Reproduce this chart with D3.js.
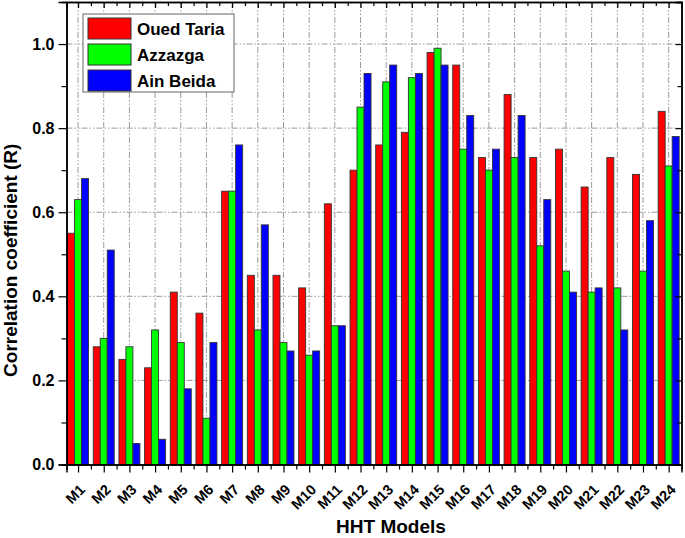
<!DOCTYPE html>
<html><head><meta charset="utf-8">
<script src="https://cdn.jsdelivr.net/npm/d3@7"></script>
<style>
body{margin:0;background:#fff;}
text{font-family:"Liberation Sans",Arial,sans-serif;font-weight:bold;}
</style></head>
<body><svg id="c" width="685" height="538"></svg>
<script>
const categories = ["M1","M2","M3","M4","M5","M6","M7","M8","M9","M10","M11","M12","M13","M14","M15","M16","M17","M18","M19","M20","M21","M22","M23","M24"];
const seriesNames = ["Oued Taria","Azzazga","Ain Beida"];
const ouedTaria = [0.55,0.28,0.25,0.23,0.41,0.36,0.65,0.45,0.45,0.42,0.62,0.70,0.76,0.79,0.98,0.95,0.73,0.88,0.73,0.75,0.66,0.73,0.69,0.84];
const azzazga   = [0.63,0.30,0.28,0.32,0.29,0.11,0.65,0.32,0.29,0.26,0.33,0.85,0.91,0.92,0.99,0.75,0.70,0.73,0.52,0.46,0.41,0.42,0.46,0.71];
const ainBeida  = [0.68,0.51,0.05,0.06,0.18,0.29,0.76,0.57,0.27,0.27,0.33,0.93,0.95,0.93,0.95,0.83,0.75,0.83,0.63,0.41,0.42,0.32,0.58,0.78];
const yTicks = [0.0,0.2,0.4,0.6,0.8,1.0];
const colors = ["#ff0000","#00ff00","#0000ff"];
const series = [ouedTaria, azzazga, ainBeida];

(function(){
const svg = d3.select("#c");
const L=66.5, R=681.5, T=2, B=464.5;
const x = d3.scaleLinear().domain([0.55,24.5]).range([L,R]);
const y = d3.scaleLinear().domain([0,1.1]).range([B,T]);
const idx = categories.map((c,i)=>i+1);
const half = categories.map((c,i)=>i+1.5).slice(0,23);
const minorY = d3.range(0.1,1.1,0.2).map(v=>+v.toFixed(2));

// grid
const dash="6,2,1.5,2,1.5,2";
svg.append("g").selectAll("line").data(yTicks.slice(1)).join("line")
  .attr("x1",L).attr("x2",R).attr("y1",d=>y(d)).attr("y2",d=>y(d))
  .attr("stroke","#9a9a9a").attr("stroke-width",1).attr("stroke-dasharray",dash);
svg.append("g").selectAll("line").data(idx).join("line")
  .attr("x1",d=>x(d)).attr("x2",d=>x(d)).attr("y1",T).attr("y2",B)
  .attr("stroke","#9a9a9a").attr("stroke-width",1).attr("stroke-dasharray",dash);

// bars
const bw = 7;
series.forEach((s,si)=>{
  svg.append("g").selectAll("rect").data(s).join("rect")
    .attr("x",(d,i)=>x(i+1)-1.5*bw+si*bw)
    .attr("y",d=>y(d)).attr("width",bw).attr("height",d=>B-y(d))
    .attr("fill",colors[si]).attr("stroke","#333").attr("stroke-width",0.9);
});

// axes
svg.append("g").attr("transform",`translate(0,${B})`).call(d3.axisBottom(x).tickValues(idx).tickFormat("").tickSizeOuter(0).tickSize(8));
svg.append("g").attr("transform",`translate(0,${B})`).call(d3.axisBottom(x).tickValues(half).tickFormat("").tickSizeOuter(0).tickSize(5));
svg.append("g").attr("transform",`translate(0,${T})`).call(d3.axisTop(x).tickValues(idx).tickFormat("").tickSizeOuter(0).tickSize(-6));
svg.append("g").attr("transform",`translate(0,${T})`).call(d3.axisTop(x).tickValues(half).tickFormat("").tickSizeOuter(0).tickSize(-4));
const gl = svg.append("g").attr("transform",`translate(${L},0)`).call(d3.axisLeft(y).tickValues(yTicks).tickFormat(d3.format(".1f")).tickSizeOuter(0).tickSize(8).tickPadding(4));
gl.selectAll("text").style("font-size","16px").attr("fill","#000");
svg.append("g").attr("transform",`translate(${L},0)`).call(d3.axisLeft(y).tickValues(minorY).tickFormat("").tickSizeOuter(0).tickSize(5));
svg.append("g").attr("transform",`translate(${R},0)`).call(d3.axisRight(y).tickValues(yTicks).tickFormat("").tickSizeOuter(0).tickSize(-6));
svg.append("g").attr("transform",`translate(${R},0)`).call(d3.axisRight(y).tickValues(minorY).tickFormat("").tickSizeOuter(0).tickSize(-4));
svg.selectAll(".domain").attr("stroke","#000").attr("stroke-width",1.5);
svg.selectAll(".tick line").attr("stroke","#000").attr("stroke-width",1.2);

// x labels
svg.append("g").selectAll("text").data(categories).join("text")
  .attr("transform",(d,i)=>`translate(${x(i+1)+8},${B+26}) rotate(-45)`)
  .attr("text-anchor","end").style("font-size","14.5px").text(d=>d);

// titles
svg.append("text").attr("x",391).attr("y",533).attr("text-anchor","middle").style("font-size","19px").text("HHT Models");
svg.append("text").attr("transform",`translate(17,${(T+B)/2+27}) rotate(-90)`).attr("text-anchor","middle").style("font-size","19px").text("Correlation coefficient (R)");

// legend
const lg = svg.append("g");
lg.append("rect").attr("x",83).attr("y",14).attr("width",151).attr("height",78).attr("fill","#fff").attr("stroke","#666").attr("stroke-width",1);
seriesNames.forEach((n,i)=>{
  lg.append("rect").attr("x",88).attr("y",18+i*26).attr("width",43).attr("height",21).attr("fill",colors[i]).attr("stroke","#333").attr("stroke-width",1);
  lg.append("text").attr("x",137).attr("y",35+i*26).style("font-size","17px").text(n);
});
})();
</script></body></html>
